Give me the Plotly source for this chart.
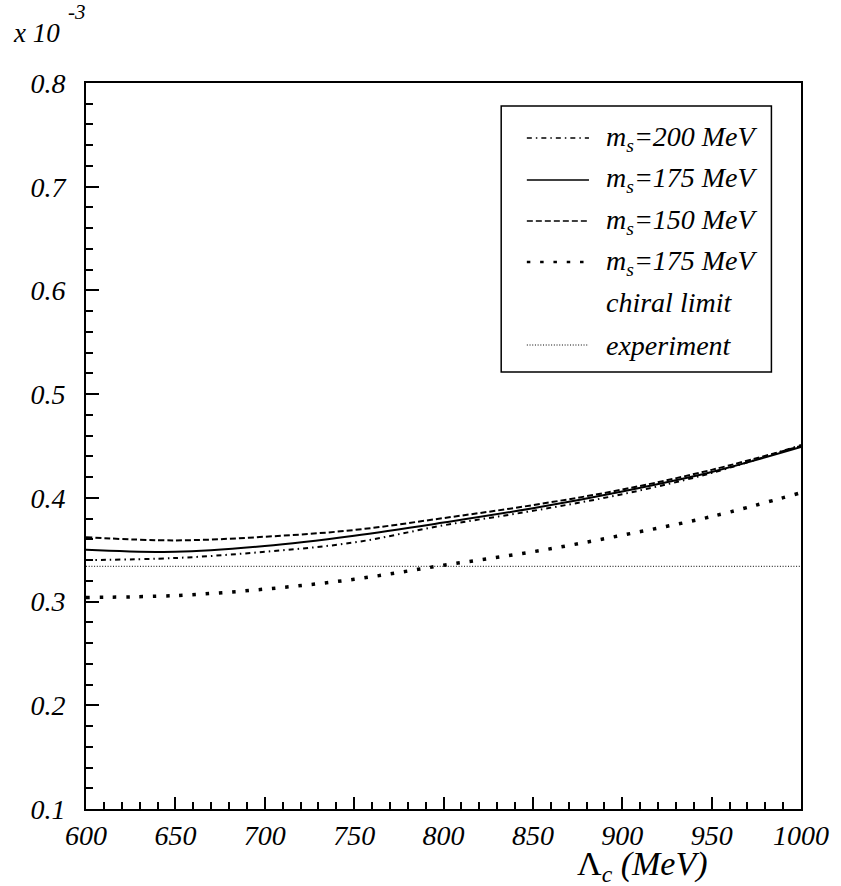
import plotly.graph_objects as go

# Data (values in units of 1e-3)
lam = [600, 650, 700, 750, 800, 850, 900, 950, 1000]
ms200 = [0.340, 0.342, 0.348, 0.357, 0.3735, 0.3875, 0.4035, 0.424, 0.451]
ms175 = [0.350, 0.348, 0.3535, 0.3635, 0.3762, 0.390, 0.4062, 0.425, 0.449]
ms150 = [0.362, 0.359, 0.3625, 0.369, 0.3805, 0.393, 0.408, 0.427, 0.450]
chiral = [0.304, 0.3058, 0.312, 0.3215, 0.335, 0.348, 0.364, 0.382, 0.405]
exp_x = [600, 1000]
exp_y = [0.334, 0.334]

legend_labels = ["m<sub>s</sub>=200 MeV", "m<sub>s</sub>=175 MeV", "m<sub>s</sub>=150 MeV",
                 "m<sub>s</sub>=175 MeV", "chiral limit", "experiment"]

FONT = "Liberation Serif"
DASHDOT = "5px,4px,1.5px,4px"
DASHED = "6px,3px"
DOTS = "3.5px,9.8px"
FINE = "1px,1.7px"

fig = go.Figure()
fig.add_trace(go.Scatter(x=lam, y=ms200, mode="lines", line=dict(color="black", width=2, dash=DASHDOT, shape="spline")))
fig.add_trace(go.Scatter(x=lam, y=ms175, mode="lines", line=dict(color="black", width=2, shape="spline")))
fig.add_trace(go.Scatter(x=lam, y=ms150, mode="lines", line=dict(color="black", width=2, dash=DASHED, shape="spline")))
fig.add_trace(go.Scatter(x=lam, y=chiral, mode="lines", line=dict(color="black", width=3.5, dash=DOTS, shape="spline")))
fig.add_trace(go.Scatter(x=exp_x, y=exp_y, mode="lines", line=dict(color="black", width=1, dash=FINE)))

W, H = 841, 886
ml, mr, mt, mb = 86, 30, 83, 77
pw, ph = W - ml - mr, H - mt - mb

def px(x):
    return (x - ml) / pw

def py(y):
    return 1 - (y - mt) / ph

shapes = []
# legend box
shapes.append(dict(type="rect", xref="paper", yref="paper", x0=px(507), x1=px(781), y0=py(372), y1=py(106),
                   line=dict(color="black", width=1.5), fillcolor="white", layer="above"))
rows = [138, 180, 221, 262, 302, 345]
styles = [(DASHDOT, 1.5), ("solid", 1.5), (DASHED, 1.5), (DOTS, 2.5), (None, 0), (FINE, 1)]
for r, (d, w) in zip(rows, styles):
    if d is None:
        continue
    shapes.append(dict(type="line", xref="paper", yref="paper", x0=px(533), x1=px(596), y0=py(r), y1=py(r),
                       line=dict(color="black", width=w, dash=d), layer="above"))

ital = dict(family=FONT, color="black", style="italic")
annotations = []
for r, t in zip(rows, legend_labels):
    annotations.append(dict(xref="paper", yref="paper", x=px(611), y=py(r), text=t, showarrow=False,
                            xanchor="left", yanchor="middle", font=dict(size=28, **ital)))
annotations.append(dict(xref="paper", yref="paper", x=px(10), y=py(33), text="x 10", showarrow=False,
                        xanchor="left", yanchor="middle", font=dict(size=27, **ital)))
annotations.append(dict(xref="paper", yref="paper", x=px(66), y=py(12), text="-3", showarrow=False,
                        xanchor="left", yanchor="middle", font=dict(size=21, **ital)))
annotations.append(dict(xref="paper", yref="paper", x=px(582), y=py(866), text="Λ<sub><i>c</i></sub><i> (MeV)</i>", showarrow=False,
                        xanchor="left", yanchor="middle", font=dict(family=FONT, size=34, color="black")))

fig.update_layout(
    width=W, height=H, margin=dict(l=ml, r=mr, t=mt, b=mb),
    paper_bgcolor="white", plot_bgcolor="white", showlegend=False,
    shapes=shapes, annotations=annotations,
    font=dict(family=FONT, color="black"),
)
fig.update_xaxes(range=[600, 1000], tickmode="array", tickvals=[600, 650, 700, 750, 800, 850, 900, 950, 1000],
                 ticks="inside", ticklen=12, tickwidth=1.5, tickcolor="black",
                 minor=dict(ticks="inside", ticklen=7, dtick=10, tickwidth=1.5, tickcolor="black"),
                 showline=True, linewidth=2, linecolor="black", mirror=True, showgrid=False, zeroline=False,
                 tickfont=dict(size=28, **ital), ticklabelstandoff=0)
fig.update_yaxes(range=[0.1, 0.8], tickmode="array", tickvals=[0.1, 0.2, 0.3, 0.4, 0.5, 0.6, 0.7, 0.8],
                 ticktext=["0.1", "0.2", "0.3", "0.4", "0.5", "0.6", "0.7", "0.8"],
                 ticks="inside", ticklen=13, tickwidth=1.5, tickcolor="black",
                 minor=dict(ticks="inside", ticklen=7, dtick=0.02, tickwidth=1.5, tickcolor="black"),
                 showline=True, linewidth=2, linecolor="black", mirror=True, showgrid=False, zeroline=False,
                 tickfont=dict(size=28, **ital), ticklabelstandoff=13)

fig.write_html("out.html")
